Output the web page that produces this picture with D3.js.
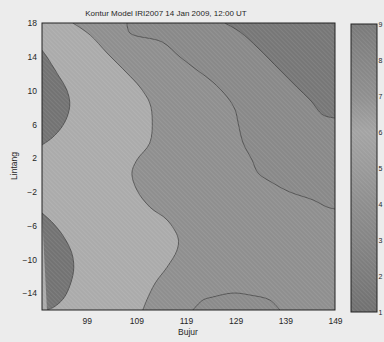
<!DOCTYPE html>
<html>
<head>
<meta charset="utf-8">
<script src="https://d3js.org/d3.v7.min.js"></script>
<style>
  body { margin: 0; background: #ececec; }
  text { font-family: "Liberation Sans", Arial, sans-serif; fill: #262626; }
</style>
</head>
<body>
<svg id="chart" width="384" height="342"></svg>
<script>
// axis ticks
const lonTicks = [99, 109, 119, 129, 139, 149];
const latTicks = [18, 14, 10, 6, 2, -2, -6, -10, -14];
const levels = [1, 2, 3, 4, 5, 6, 7, 8, 9];

// contour edges, [lon, lat]
const blobNorth = [[90, 14.8], [91, 13.97], [93, 12.08], [95, 10.06], [95.6, 8.52],
                   [95.2, 7.1], [94, 5.68], [92, 4.38], [90, 3.55]];
const blobSouth = [[90, -4.51], [92.2, -5.69], [94.4, -7.35], [96, -9.25], [96.4, -11.03],
                   [95.8, -12.8], [94.4, -14.58], [92.4, -15.65], [91, -16]];
const bandEdge = [[96.2, 18], [99.7, 16.58], [103.1, 14.45], [107.1, 12.08], [109.7, 10.42],
                  [111.7, 8.52], [112.2, 6.51], [111.7, 3.78], [109.1, 1.77], [108.1, 0.23],
                  [109.1, -1.78], [111.7, -3.8], [115.2, -5.34], [117.4, -7.47], [117.2, -8.89],
                  [115.2, -10.91], [112.8, -12.8], [111.1, -14.82], [110.3, -16]];
const midLine = [[107.1, 18], [107.7, 16.82], [114.2, 15.75], [117.8, 13.97], [121.2, 12.43],
                 [124.4, 11.01], [127.3, 9.23], [128.9, 7.69], [129.5, 6.15], [130.5, 3.78],
                 [132.3, 1.77], [133.5, 0.23], [136.5, -0.96], [139.9, -2.02], [144.6, -2.97],
                 [147.4, -3.8], [149, -4.04]];
const topRight = [[126.8, 18], [129.9, 16.93], [133.5, 15.04], [137.9, 12.43], [141.3, 10.42],
                  [144, 8.88], [146.6, 7.1], [149, 6.75]];
const southArc = [[120.4, -16], [122.4, -14.82], [124.4, -14.46], [128.5, -13.99],
                  [131.9, -14.23], [135.9, -14.82], [137.9, -16]];

// greys of the scanned colour bar, one per level
const levelGray = ["#707070", "#7b7b7b", "#858585", "#8e8e8e", "#9a9a9a",
                   "#a4a4a4", "#8f8f8f", "#858585", "#7a7a7a"];

const svg = d3.select("svg#chart");
const plot = {left: 42, right: 335, top: 23, bottom: 310};

const x = d3.scaleLinear().domain([90, 149]).range([plot.left, plot.right]);
const y = d3.scaleLinear().domain([-16, 18]).range([plot.bottom, plot.top]);
const yBar = d3.scaleLinear().domain([1, 9]).range([312, 24]);

const edge = d3.line()
    .x(d => x(d[0]))
    .y(d => y(d[1]))
    .curve(d3.curveCatmullRom.alpha(0.5));

const defs = svg.append("defs");
const hatch = defs.append("pattern")
    .attr("id", "hatch")
    .attr("patternUnits", "userSpaceOnUse")
    .attr("width", 3).attr("height", 3)
    .attr("patternTransform", "rotate(-45)");
hatch.append("line")
    .attr("x1", 0).attr("y1", 0).attr("x2", 0).attr("y2", 3)
    .attr("stroke", "#ffffff").attr("stroke-opacity", 0.16).attr("stroke-width", 1);

defs.append("clipPath").attr("id", "plotclip")
  .append("rect")
    .attr("x", plot.left).attr("y", plot.top)
    .attr("width", plot.right - plot.left).attr("height", plot.bottom - plot.top);

const area = svg.append("g").attr("clip-path", "url(#plotclip)");

// background level
area.append("rect")
    .attr("x", plot.left).attr("y", plot.top)
    .attr("width", plot.right - plot.left).attr("height", plot.bottom - plot.top)
    .attr("fill", "#8f8f8f");

const corner = (lon, lat) => `L${x(lon)},${y(lat)}`;

// right of the middle contour
area.append("path")
    .attr("d", edge(midLine) + corner(149, 18) + "Z")
    .attr("fill", "#898989");

// light band on the west
area.append("path")
    .attr("d", edge(bandEdge) + corner(90, -16) + corner(90, 18) + "Z")
    .attr("fill", "#ababab");

// dark blobs on the west edge
[blobNorth, blobSouth].forEach(b => {
  area.append("path")
      .attr("d", edge(b) + "Z")
      .attr("fill", "#737373");
});

// north-east corner
area.append("path")
    .attr("d", edge(topRight) + corner(149, 18) + "Z")
    .attr("fill", "#777777");

// south arc
area.append("path")
    .attr("d", edge(southArc) + "Z")
    .attr("fill", "#8b8b8b");

// contour lines
[blobNorth, blobSouth, bandEdge, midLine, topRight, southArc].forEach(c => {
  area.append("path")
      .attr("d", edge(c))
      .attr("fill", "none")
      .attr("stroke", "#3a3a3a")
      .attr("stroke-opacity", 0.75)
      .attr("stroke-width", 0.9);
});

area.append("rect")
    .attr("x", plot.left).attr("y", plot.top)
    .attr("width", plot.right - plot.left).attr("height", plot.bottom - plot.top)
    .attr("fill", "url(#hatch)");

svg.append("rect")
    .attr("x", plot.left).attr("y", plot.top)
    .attr("width", plot.right - plot.left).attr("height", plot.bottom - plot.top)
    .attr("fill", "none").attr("stroke", "#222").attr("stroke-width", 1);

// axes
const xAxis = svg.append("g")
    .attr("transform", `translate(0,${plot.bottom})`)
    .call(d3.axisBottom(x).tickValues(lonTicks).tickSize(0).tickPadding(8));
const yAxis = svg.append("g")
    .attr("transform", `translate(${plot.left},0)`)
    .call(d3.axisLeft(y).tickValues(latTicks).tickSize(0).tickPadding(5));
[xAxis, yAxis].forEach(a => {
  a.select(".domain").remove();
  a.selectAll("text").attr("font-size", 8.5).attr("fill", "#262626")
      .style("font-family", "\"Liberation Sans\", Arial, sans-serif");
});

svg.append("text")
    .attr("x", 166).attr("y", 16)
    .attr("text-anchor", "middle")
    .attr("font-size", 8)
    .text("Kontur Model IRI2007 14 Jan 2009, 12:00 UT");

svg.append("text")
    .attr("x", 188).attr("y", 335)
    .attr("text-anchor", "middle")
    .attr("font-size", 8.5)
    .text("Bujur");

svg.append("text")
    .attr("transform", "translate(17,166) rotate(-90)")
    .attr("text-anchor", "middle")
    .attr("font-size", 8.5)
    .text("Lintang");

// colour bar
const grad = defs.append("linearGradient")
    .attr("id", "cbar")
    .attr("x1", 0).attr("y1", 1).attr("x2", 0).attr("y2", 0);
levels.forEach((v, i) => {
  grad.append("stop")
      .attr("offset", (v - levels[0]) / (levels[levels.length - 1] - levels[0]))
      .attr("stop-color", levelGray[i]);
});

svg.append("rect")
    .attr("x", 351).attr("y", yBar(9))
    .attr("width", 26).attr("height", yBar(1) - yBar(9))
    .attr("fill", "url(#cbar)");
svg.append("rect")
    .attr("x", 351).attr("y", yBar(9))
    .attr("width", 26).attr("height", yBar(1) - yBar(9))
    .attr("fill", "url(#hatch)")
    .attr("stroke", "#222").attr("stroke-width", 1);

const barAxis = svg.append("g")
    .attr("transform", "translate(377,0)")
    .call(d3.axisRight(yBar).tickValues(levels).tickFormat(d3.format("d")).tickSize(0).tickPadding(1.5));
barAxis.select(".domain").remove();
barAxis.selectAll("text").attr("font-size", 7).attr("fill", "#262626")
    .style("font-family", "\"Liberation Sans\", Arial, sans-serif");
</script>
</body>
</html>
